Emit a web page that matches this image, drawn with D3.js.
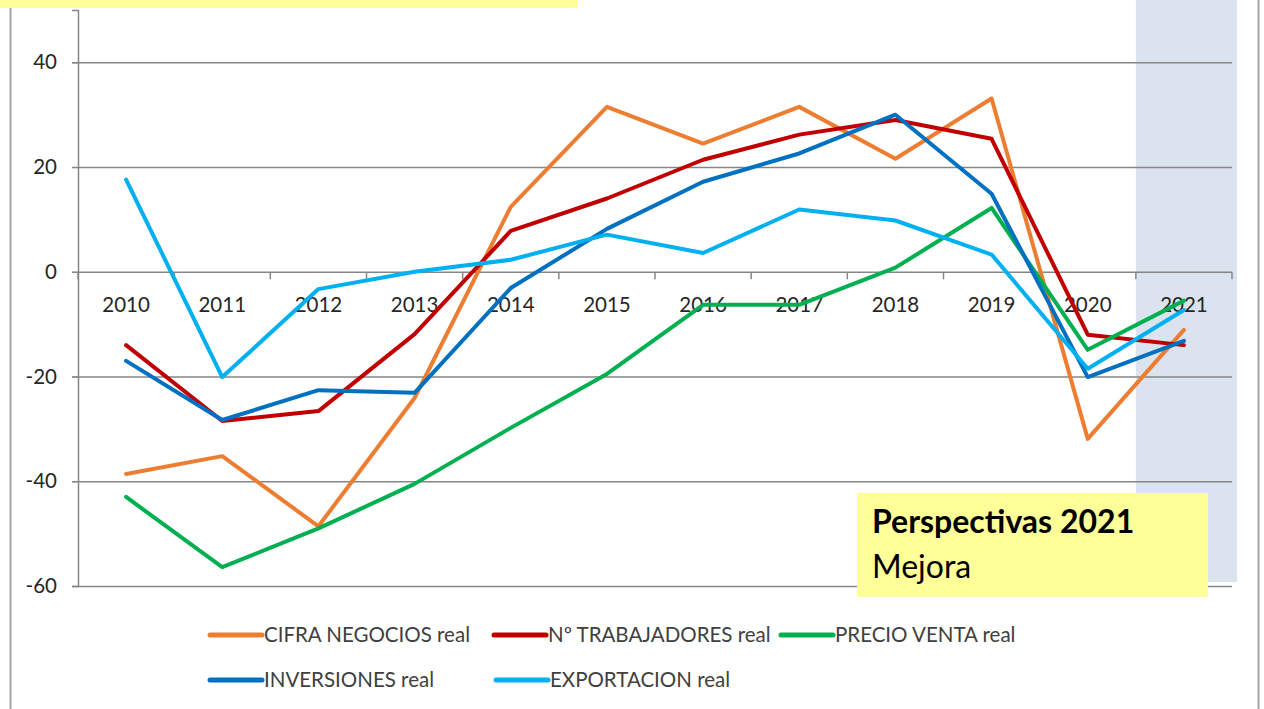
<!DOCTYPE html>
<html>
<head>
<meta charset="utf-8">
<script src="https://cdn.jsdelivr.net/npm/d3@7"></script>
<style>
  body { margin: 0; background: #fff; }
  svg { display: block; font-family: Lato, "Open Sans", sans-serif; }
</style>
</head>
<body>
<svg id="chart" width="1264" height="709"></svg>
<script>
const years = ["2010","2011","2012","2013","2014","2015","2016","2017","2018","2019","2020","2021"];
const yTicks = [-60, -40, -20, 0, 20, 40];

const cifraNegocios = [-38.6, -35.2, -48.6, -24.1, 12.4, 31.5, 24.5, 31.5, 21.6, 33.1, -31.9, -11.1];
const trabajadores  = [-14.0, -28.5, -26.6, -11.9, 7.8, 14.0, 21.4, 26.2, 29.0, 25.4, -12.0, -14.0];
const precioVenta   = [-43.0, -56.4, -49.0, -40.5, -29.8, -19.5, -6.3, -6.3, 0.8, 12.2, -14.9, -5.5];
const inversiones   = [-17.0, -28.3, -22.6, -23.1, -3.1, 8.2, 17.2, 22.6, 30.0, 14.9, -20.1, -13.2];
const exportacion   = [17.6, -20.1, -3.3, 0.0, 2.3, 7.1, 3.6, 11.9, 9.8, 3.3, -18.5, -7.3];

const seriesNames = ["CIFRA NEGOCIOS real", "Nº TRABAJADORES real", "PRECIO VENTA real", "INVERSIONES real", "EXPORTACION real"];
const seriesColors = ["#ed7d31", "#c00000", "#00b050", "#0070c0", "#00b0f0"];
const seriesValues = [cifraNegocios, trabajadores, precioVenta, inversiones, exportacion];

const series = seriesNames.map((name, i) => ({name, color: seriesColors[i], values: seriesValues[i]}));

const svg = d3.select("#chart");
const margin = {top: 10, right: 32, bottom: 123, left: 78};
const width = +svg.attr("width");
const height = +svg.attr("height");

const x = d3.scaleBand()
  .domain(years)
  .range([margin.left, width - margin.right]);
const y = d3.scaleLinear()
  .domain([-60, 50])
  .range([height - margin.bottom, margin.top]);

// outer frame lines
svg.append("line").attr("x1", 10.5).attr("x2", 10.5).attr("y1", 0).attr("y2", height)
  .attr("stroke", "#a6a6a6").attr("stroke-width", 2);
svg.append("line").attr("x1", 1258.5).attr("x2", 1258.5).attr("y1", 0).attr("y2", height)
  .attr("stroke", "#a6a6a6").attr("stroke-width", 2);

// forecast band for 2021
svg.append("rect")
  .attr("x", x("2020") + x.bandwidth())
  .attr("y", 0)
  .attr("width", x.bandwidth() + 5)
  .attr("height", y(-60) - 4)
  .attr("fill", "#dbe3ef");

// gridlines
svg.append("g")
  .selectAll("line")
  .data(yTicks)
  .join("line")
    .attr("x1", margin.left - 6)
    .attr("x2", width - margin.right)
    .attr("y1", d => y(d) + 0.5)
    .attr("y2", d => y(d) + 0.5)
    .attr("stroke", "#868686")
    .attr("stroke-width", 1.5);

// y axis
const yAxis = g => g
  .attr("transform", `translate(${margin.left},0)`)
  .call(d3.axisLeft(y).tickValues(yTicks).tickSize(6).tickPadding(15).tickFormat(d => String(d)))
  .call(g => g.select(".domain").attr("stroke", "#868686").attr("stroke-width", 1.5))
  .call(g => g.selectAll(".tick line").attr("stroke", "#868686"))
  .call(g => g.selectAll("text").attr("fill", "#262626").attr("font-size", 20.5).attr("font-family", "Lato, sans-serif"));
svg.append("g").call(yAxis);

// x axis at zero with ticks at category boundaries
const xAxisG = svg.append("g").attr("transform", `translate(0,${y(0) + 0.5})`);
xAxisG.selectAll("line.bound")
  .data(d3.range(years.length + 1))
  .join("line")
    .attr("class", "bound")
    .attr("x1", i => margin.left + i * x.bandwidth())
    .attr("x2", i => margin.left + i * x.bandwidth())
    .attr("y1", 0)
    .attr("y2", 7)
    .attr("stroke", "#868686")
    .attr("stroke-width", 1.5);
xAxisG.selectAll("text")
  .data(years)
  .join("text")
    .attr("x", d => x(d) + x.bandwidth() / 2)
    .attr("y", 40)
    .attr("text-anchor", "middle")
    .attr("font-size", 20.5)
    .attr("fill", "#262626")
    .text(d => d);

// lines
const line = d3.line()
  .x((d, i) => x(years[i]) + x.bandwidth() / 2)
  .y(d => y(d));

svg.append("g")
  .selectAll("path")
  .data(series)
  .join("path")
    .attr("fill", "none")
    .attr("stroke", d => d.color)
    .attr("stroke-width", 4)
    .attr("stroke-linejoin", "round")
    .attr("stroke-linecap", "round")
    .attr("d", d => line(d.values));

// legend
const legendPos = [
  {x: 210, y: 635}, {x: 494, y: 635}, {x: 781, y: 635},
  {x: 210, y: 680}, {x: 496, y: 680}
];
const legend = svg.append("g")
  .selectAll("g")
  .data(series)
  .join("g")
    .attr("transform", (d, i) => `translate(${legendPos[i].x},${legendPos[i].y})`);
legend.append("line")
  .attr("x1", 0).attr("x2", 52)
  .attr("stroke", d => d.color)
  .attr("stroke-width", 5)
  .attr("stroke-linecap", "round");
legend.append("text")
  .attr("x", 54)
  .attr("dy", "0.35em")
  .attr("font-size", 20.5)
  .attr("fill", "#404040")
  .text(d => d.name);

// top yellow strip
svg.append("rect").attr("x", 0).attr("y", 0).attr("width", 578).attr("height", 8).attr("fill", "#ffff99");

// perspectives box
const box = svg.append("g");
box.append("rect").attr("x", 857).attr("y", 493).attr("width", 351).attr("height", 104).attr("fill", "#ffff99");
box.append("text").attr("x", 872).attr("y", 533).attr("font-size", 32).attr("font-weight", "bold").attr("fill", "#000").text("Perspectivas 2021");
box.append("text").attr("x", 872).attr("y", 578).attr("font-size", 32).attr("fill", "#000").text("Mejora");
</script>
</body>
</html>
